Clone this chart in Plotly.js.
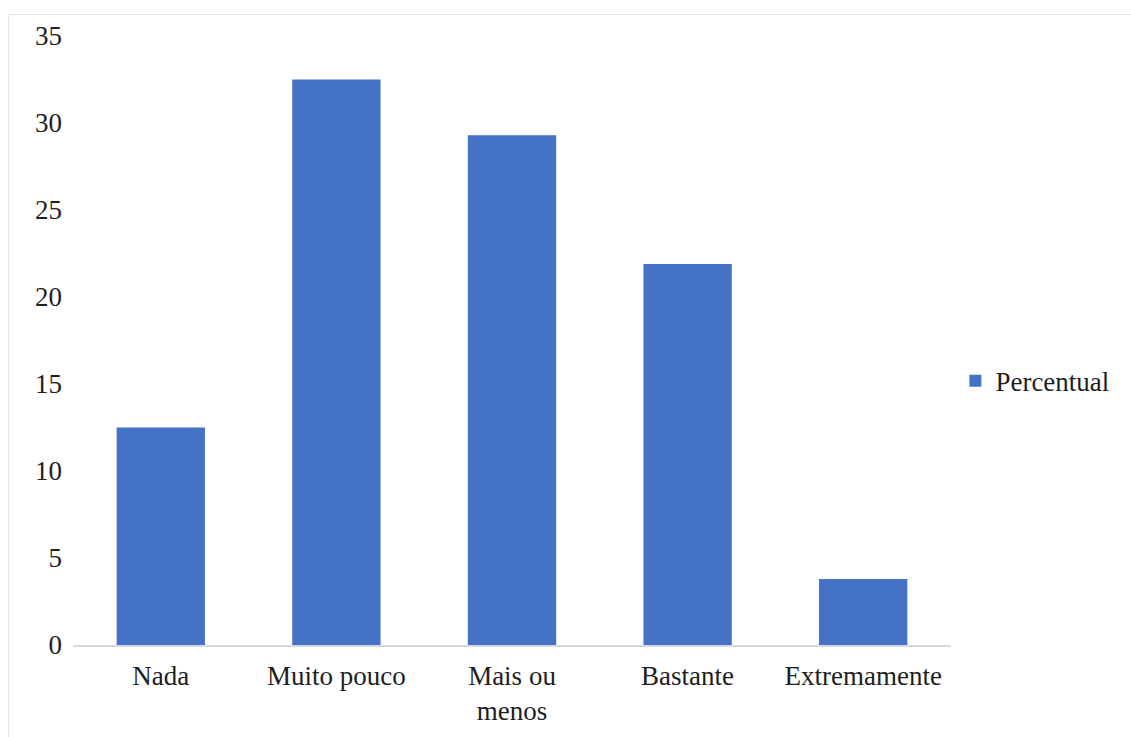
<!DOCTYPE html>
<html>
<head>
<meta charset="utf-8">
<script src="https://cdn.plot.ly/plotly-3.0.1.min.js"></script>
<style>
  html, body { margin: 0; padding: 0; background: #fff; }
  #wrap { position: relative; width: 1131px; height: 737px; }
  #chart { width: 1131px; height: 737px; }
  #frame {
    position: absolute; left: 8px; top: 14px; right: -2px; bottom: -2px;
    border-top: 1px solid #e4e4e4; border-left: 1px solid #e4e4e4;
    pointer-events: none;
  }
</style>
</head>
<body>
<div id="wrap">
  <div id="chart"></div>
  <div id="frame"></div>
</div>
<script>
// Response categories (x axis)
const categories = ["Nada", "Muito pouco", "Mais ou<br>menos", "Bastante", "Extremamente"];
// Percentage of respondents per category
const percentual = [12.5, 32.5, 29.3, 21.9, 3.8];
// Y axis ticks
const yTicks = [0, 5, 10, 15, 20, 25, 30, 35];

const serif = "Times New Roman, Tinos, DejaVu Serif, serif";

const trace = {
  type: "bar",
  name: "Percentual",
  x: categories,
  y: percentual,
  marker: { color: "#4472C4" },
  hoverinfo: "x+y"
};

const layout = {
  width: 1131,
  height: 737,
  margin: { l: 73, r: 180, t: 36, b: 92 },
  paper_bgcolor: "#ffffff",
  plot_bgcolor: "#ffffff",
  font: { family: serif, size: 27, color: "#1e1e1e" },
  bargap: 0.497,
  showlegend: true,
  legend: {
    x: 1.005, xanchor: "left",
    y: 0.433, yanchor: "middle",
    font: { family: serif, size: 27, color: "#1e1e1e" },
    itemwidth: 30,
    bgcolor: "rgba(0,0,0,0)"
  },
  xaxis: {
    type: "category",
    showgrid: false,
    zeroline: false,
    showline: true,
    linecolor: "#d9d9d9",
    linewidth: 1.5,
    ticks: "",
    ticklabelstandoff: 6,
    tickfont: { family: serif, size: 27, color: "#1e1e1e" }
  },
  yaxis: {
    range: [0, 35],
    tickvals: yTicks,
    ticktext: yTicks.map(String),
    showgrid: false,
    zeroline: false,
    showline: false,
    ticks: "",
    ticklabelstandoff: 10,
    tickfont: { family: serif, size: 27, color: "#1e1e1e" }
  }
};

Plotly.newPlot("chart", [trace], layout, { displayModeBar: false, staticPlot: true });
</script>
</body>
</html>
